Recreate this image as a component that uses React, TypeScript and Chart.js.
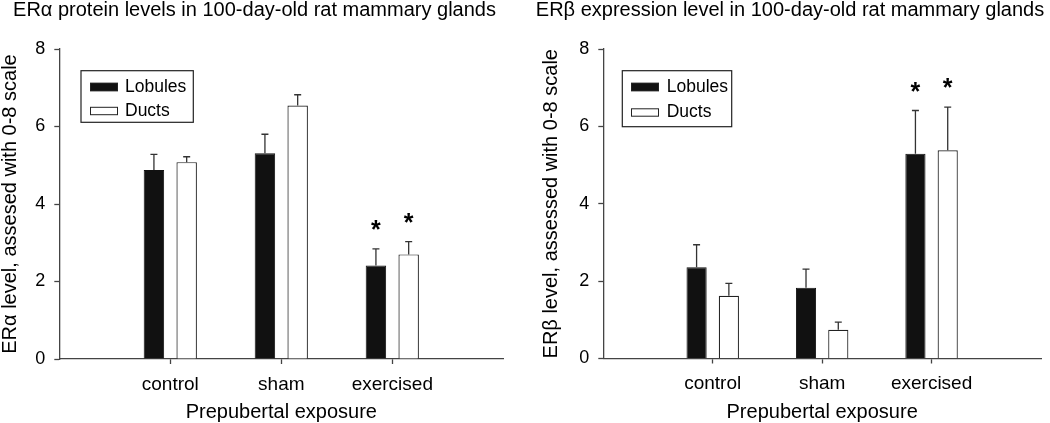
import React, { useEffect, useRef } from 'react';
import { Chart, registerables } from 'chart.js';

Chart.register(...registerables);

// ---------- data ----------
const categories = ['control', 'sham', 'exercised'];
const seriesNames = ['Lobules', 'Ducts'];
const yTickValues = [0, 2, 4, 6, 8];

const eraLobules = [4.88, 5.31, 2.41];
const eraLobulesErr = [0.4, 0.49, 0.43];
const eraDucts = [5.08, 6.54, 2.7];
const eraDuctsErr = [0.14, 0.28, 0.33];
const eraSignificant = [false, false, true];

const erbLobules = [2.36, 1.83, 5.29];
const erbLobulesErr = [0.58, 0.48, 1.12];
const erbDucts = [1.62, 0.74, 5.38];
const erbDuctsErr = [0.32, 0.2, 1.12];
const erbSignificant = [false, false, true];

const FONT = '"Liberation Sans", Arial, Helvetica, sans-serif';
const AXIS_COLOR = '#444';

type Panel = {
  title: string;
  yTitle: string;
  lobules: number[];
  lobulesErr: number[];
  ducts: number[];
  ductsErr: number[];
  significant: boolean[];
  layout: {
    titleX: number;
    padLeft: number;
    axisX: number;
    rightX: number;
    bottomY: number;
    legend: { x: number; y: number; w: number; h: number; swatchX: number; textX: number; rows: number[] };
  };
};

const panels: Panel[] = [
  {
    title: 'ER\u03b1 protein levels in 100-day-old rat mammary glands',
    yTitle: 'ER\u03b1 level, assesed with 0-8 scale',
    lobules: eraLobules,
    lobulesErr: eraLobulesErr,
    ducts: eraDucts,
    ductsErr: eraDuctsErr,
    significant: eraSignificant,
    layout: {
      titleX: 254.5,
      padLeft: 0,
      axisX: 59.3,
      rightX: 503.3,
      bottomY: 359,
      legend: { x: 81, y: 70.7, w: 112.3, h: 51.6, swatchX: 90, textX: 125, rows: [87, 111] },
    },
  },
  {
    title: 'ER\u03b2 expression level in 100-day-old rat mammary glands',
    yTitle: 'ER\u03b2 level, assessed with 0-8 scale',
    lobules: erbLobules,
    lobulesErr: erbLobulesErr,
    ducts: erbDucts,
    ductsErr: erbDuctsErr,
    significant: erbSignificant,
    layout: {
      titleX: 265,
      padLeft: 16,
      axisX: 78.3,
      rightX: 521.3,
      bottomY: 358.5,
      legend: { x: 97.3, y: 70.7, w: 109.4, h: 56, swatchX: 106, textX: 141.7, rows: [87, 112.5] },
    },
  },
];

const W = 525;
const H = 423;

function PanelChart({ panel }: { panel: Panel }) {
  const ref = useRef<HTMLCanvasElement | null>(null);

  useEffect(() => {
    const canvas = ref.current;
    if (!canvas) return;
    const L = panel.layout;
    const labels = ['', ...categories, ''];
    const errs = [panel.lobulesErr, panel.ductsErr];

    const overlay = {
      id: 'overlay',
      afterDatasetsDraw(chart: any) {
        const ctx = chart.ctx;
        const yScale = chart.scales.y;
        ctx.save();
        chart.data.datasets.forEach((ds: any, di: number) => {
          const meta = chart.getDatasetMeta(di);
          meta.data.forEach((bar: any, i: number) => {
            const v = ds.data[i];
            if (v === null || v === undefined) return;
            const e = errs[di][i - 1];
            const yTop = yScale.getPixelForValue(v + e);
            ctx.strokeStyle = '#333';
            ctx.lineWidth = 1.3;
            ctx.beginPath();
            ctx.moveTo(bar.x, bar.y);
            ctx.lineTo(bar.x, yTop);
            ctx.moveTo(bar.x - 3.5, yTop);
            ctx.lineTo(bar.x + 3.5, yTop);
            ctx.stroke();
            if (panel.significant[i - 1]) {
              ctx.fillStyle = '#000';
              ctx.font = 'bold 25px ' + FONT;
              ctx.textAlign = 'center';
              ctx.textBaseline = 'alphabetic';
              ctx.fillText('*', bar.x, yTop - 11);
            }
          });
        });
        ctx.restore();
      },
      afterDraw(chart: any) {
        const ctx = chart.ctx;
        ctx.save();
        // title
        ctx.fillStyle = '#000';
        ctx.font = '20px ' + FONT;
        ctx.textAlign = 'center';
        ctx.textBaseline = 'alphabetic';
        ctx.fillText(panel.title, L.titleX, 16);
        // legend
        const lg = L.legend;
        ctx.strokeStyle = '#222';
        ctx.lineWidth = 1.2;
        ctx.strokeRect(lg.x, lg.y, lg.w, lg.h);
        chart.data.datasets.forEach((ds: any, di: number) => {
          const cy = lg.rows[di];
          ctx.fillStyle = ds.backgroundColor;
          ctx.fillRect(lg.swatchX, cy - 4.2, 28, 8.4);
          ctx.strokeStyle = '#222';
          ctx.lineWidth = 1;
          ctx.strokeRect(lg.swatchX + 0.5, cy - 3.7, 27, 7.4);
          ctx.fillStyle = '#000';
          ctx.font = '17.5px ' + FONT;
          ctx.textAlign = 'left';
          ctx.textBaseline = 'middle';
          ctx.fillText(ds.label, lg.textX, cy);
        });
        ctx.restore();
      },
    };

    const chart = new Chart(canvas, {
      type: 'bar',
      data: {
        labels,
        datasets: [
          {
            label: seriesNames[0],
            data: [null, ...panel.lobules, null],
            backgroundColor: '#111',
            borderColor: '#111',
            borderWidth: 1,
            categoryPercentage: 0.59,
            barPercentage: 0.625,
          },
          {
            label: seriesNames[1],
            data: [null, ...panel.ducts, null],
            backgroundColor: '#fff',
            borderColor: '#222',
            borderWidth: 1.2,
            categoryPercentage: 0.59,
            barPercentage: 0.625,
          },
        ],
      },
      options: {
        responsive: false,
        animation: false,
        devicePixelRatio: 1,
        layout: {
          padding: { top: 49, left: L.padLeft, right: W - L.rightX, bottom: 0 },
        },
        plugins: {
          legend: { display: false },
          title: { display: false },
          tooltip: { enabled: false },
        },
        scales: {
          x: {
            type: 'category',
            offset: false,
            afterFit: (s: any) => {
              s.height = H - L.bottomY;
            },
            grid: {
              offset: false,
              drawOnChartArea: false,
              drawTicks: true,
              tickLength: 5,
              tickColor: (c: any) => (c.index === 0 || c.index === labels.length - 1 ? 'rgba(0,0,0,0)' : AXIS_COLOR),
              tickWidth: 1.3,
            },
            border: { display: true, color: AXIS_COLOR, width: 1.3 },
            ticks: {
              color: '#000',
              font: { family: FONT, size: 19 },
              padding: 9,
              autoSkip: false,
              maxRotation: 0,
            },
            title: {
              display: true,
              text: 'Prepubertal exposure',
              color: '#000',
              font: { family: FONT, size: 20, lineHeight: 1 },
              padding: { top: 1, bottom: 1 },
            },
          },
          y: {
            min: 0,
            max: 8,
            afterFit: (s: any) => {
              s.width = L.axisX - L.padLeft;
            },
            afterBuildTicks: (s: any) => {
              s.ticks = yTickValues.map((v) => ({ value: v }));
            },
            grid: {
              drawOnChartArea: false,
              drawTicks: true,
              tickLength: 5,
              tickColor: AXIS_COLOR,
              tickWidth: 1.3,
            },
            border: { display: true, color: AXIS_COLOR, width: 1.3 },
            ticks: {
              color: '#000',
              font: { family: FONT, size: 18 },
              padding: 9,
            },
            title: {
              display: true,
              text: panel.yTitle,
              color: '#000',
              font: { family: FONT, size: 20, lineHeight: 1 },
              padding: { top: 0, bottom: 0 },
            },
          },
        },
      },
      plugins: [overlay],
    } as any);

    return () => {
      chart.destroy();
    };
  }, [panel]);

  return <canvas ref={ref} width={W} height={H} style={{ width: W, height: H, display: 'block' }} />;
}

export default function App() {
  return (
    <div
      style={{
        position: 'fixed',
        left: 0,
        top: 0,
        width: 1050,
        height: 423,
        display: 'flex',
        background: '#fff',
      }}
    >
      {panels.map((p, i) => (
        <PanelChart key={i} panel={p} />
      ))}
    </div>
  );
}
